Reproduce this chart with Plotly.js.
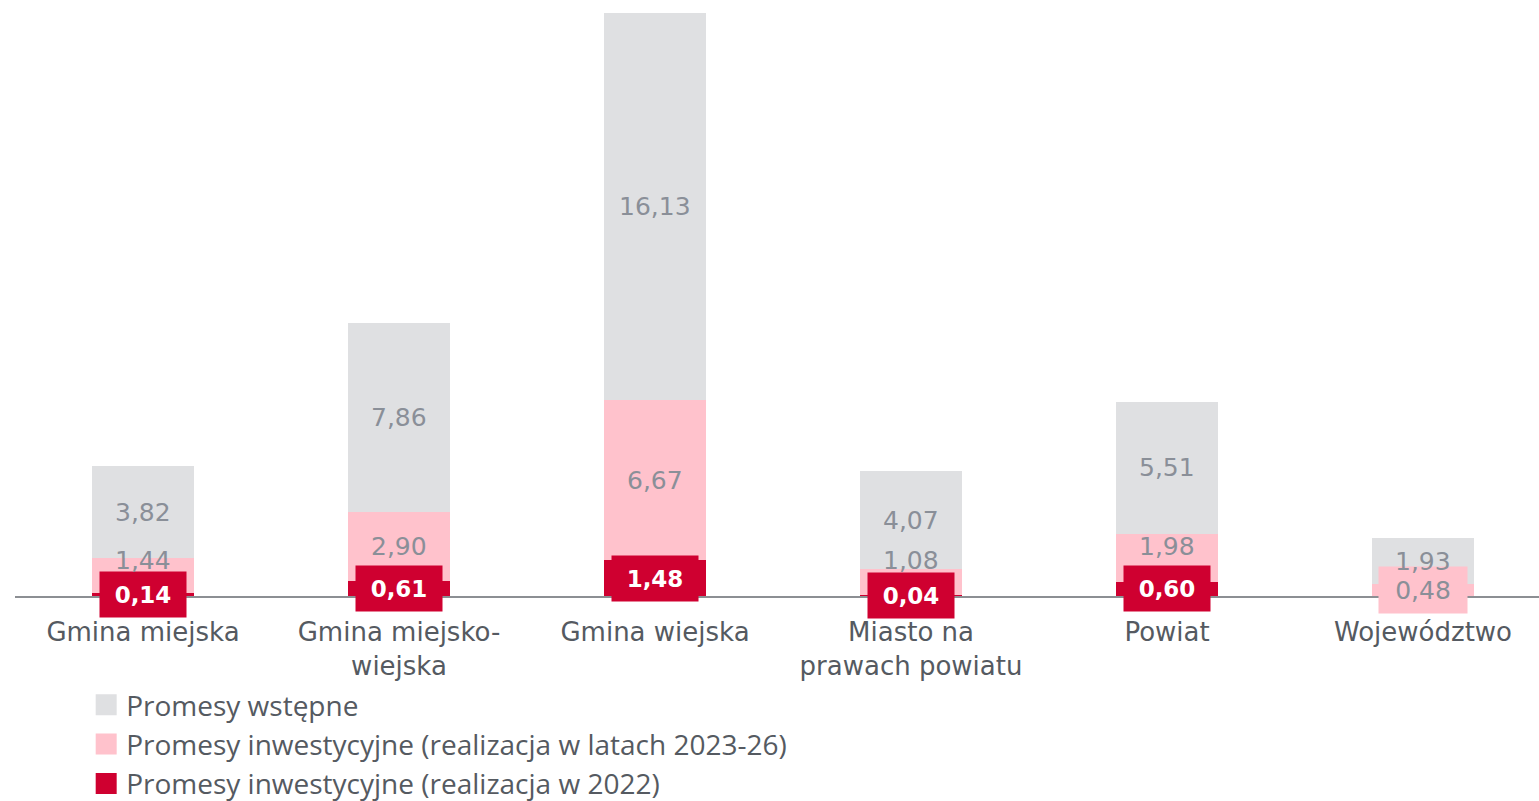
<!DOCTYPE html>
<html><head><meta charset="utf-8">
<script src="https://cdn.plot.ly/plotly-3.0.1.min.js"></script>
<style>html,body{margin:0;padding:0;background:#fff}#chart{width:1539px;height:801px}</style>
</head><body><div id="chart"></div><script>
// ---- data ----
const categories = ['Gmina miejska', 'Gmina miejsko-<br>wiejska', 'Gmina wiejska', 'Miasto na<br>prawach powiatu', 'Powiat', 'Województwo'];
const name2022 = 'Promesy inwestycyjne (realizacja w 2022)';
const name2326 = 'Promesy inwestycyjne (realizacja w latach 2023-26)';
const namePrelim = 'Promesy wstępne';
const inv2022 = [0.14, 0.61, 1.48, 0.04, 0.60, 0];
const inv2326 = [1.44, 2.90, 6.67, 1.08, 1.98, 0.48];
const prelim = [3.82, 7.86, 16.13, 4.07, 5.51, 1.93];

// ---- styles ----
const C2022 = '#cf0030', C2326 = '#ffc2cc', CPRE = '#dfe0e2';
const labelGray = '#8a8f98';
const shift2326 = [15, 0, 0, 22, 11, 0];   // pixel nudges for crowded labels
const boxed2326 = [false, false, false, false, false, true];

const series = [
  {name: name2022, vals: inv2022, color: C2022, rank: 3},
  {name: name2326, vals: inv2326, color: C2326, rank: 2},
  {name: namePrelim, vals: prelim, color: CPRE, rank: 1}
];

const traces = series.map((s, k) => ({
  type: 'bar', x: categories, y: s.vals, name: s.name,
  marker: {color: s.color}, width: 0.4, hoverinfo: 'skip',
  showlegend: false, legendgroup: 'g' + k
}));
// legend entries (larger square swatches than the bar default)
series.forEach((s, k) => traces.push({
  type: 'scatter', mode: 'markers', x: [null], y: [null], name: s.name,
  marker: {symbol: 'square', size: 16, color: s.color, line: {color: s.color, width: 5}},
  legendgroup: 'g' + k, legendrank: s.rank, showlegend: true, hoverinfo: 'skip'
}));

const fmt = v => v.toFixed(2).replace('.', ',');
const annotations = [];
categories.forEach((c, i) => {
  let base = 0;
  series.forEach((s, k) => {
    const v = s.vals[i];
    if (v > 0) {
      const a = {x: c, y: base + v / 2, xref: 'x', yref: 'y', text: fmt(v), showarrow: false,
        font: {family: 'DejaVu Sans', size: 25, color: labelGray}};
      if (k === 0) {
        Object.assign(a, {bgcolor: C2022, width: 84, height: 43, font: {family: 'DejaVu Sans', size: 23, color: '#ffffff', weight: 'bold'}});
      } else if (k === 1) {
        a.yshift = shift2326[i];
        if (boxed2326[i]) Object.assign(a, {bgcolor: C2326, width: 86, height: 44});
      }
      annotations.push(a);
    }
    base += v;
  });
});

const layout = {
  width: 1539, height: 801,
  margin: {l: 15, r: 0, t: 10, b: 205, autoexpand: false},
  paper_bgcolor: '#ffffff', plot_bgcolor: '#ffffff',
  barmode: 'stack',
  showlegend: true,
  legend: {xref: 'container', yref: 'paper', x: 0.056, y: -0.3635, xanchor: 'left', yanchor: 'bottom',
    traceorder: 'normal', tracegroupgap: 2, itemwidth: 30,
    font: {family: 'Open Sans', size: 28, color: '#555a61'}, bgcolor: 'rgba(0,0,0,0)'},
  xaxis: {type: 'category', range: [-0.5, 5.453], showgrid: false, zeroline: false,
    showline: true, linecolor: '#8c8f93', linewidth: 2, ticks: '', tickangle: 0, ticklabelstandoff: 12,
    tickfont: {family: 'DejaVu Sans', size: 26, color: '#555a61'}, fixedrange: true},
  yaxis: {range: [0, 24.406], visible: false, showgrid: false, zeroline: false, fixedrange: true},
  annotations: annotations
};

Plotly.newPlot('chart', traces, layout, {displayModeBar: false, staticPlot: true});
</script></body></html>
